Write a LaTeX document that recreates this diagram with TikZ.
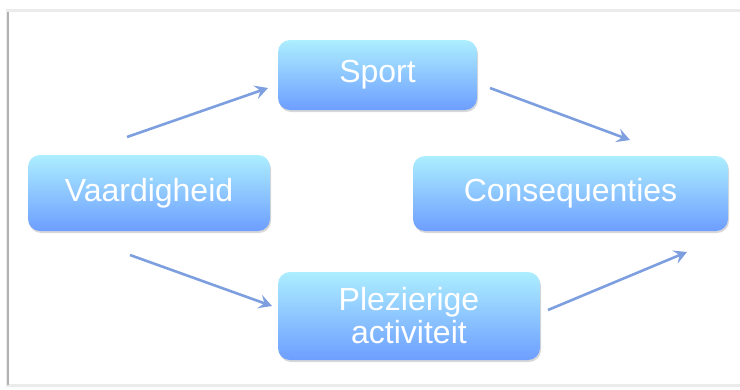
\documentclass[tikz,border=0pt]{standalone}
\usepackage{fontspec}
\setmainfont{Liberation Sans}
\usetikzlibrary{arrows.meta,shadows}
\definecolor{boxtop}{HTML}{ADEEFF}
\definecolor{boxmid}{HTML}{94C4FF}
\definecolor{boxbot}{HTML}{6D9EFF}
\definecolor{arr}{HTML}{7E9FDF}
\tikzset{
  box/.style={rounded corners=12pt, top color=boxtop, middle color=boxmid, bottom color=boxbot, draw=none,
    text=white, font=\fontsize{32}{33}\selectfont, align=center, inner sep=0pt,
    drop shadow={shadow xshift=1pt, shadow yshift=-2pt, opacity=0.25, fill=black!60}},
  conn/.style={arr, line width=2.6pt, -{Stealth[length=13pt,width=14pt,inset=5pt]}}
}
\begin{document}
\begin{tikzpicture}[x=1pt,y=-1pt]
\useasboundingbox (0,0) rectangle (740,389);
\fill[white] (0,0) rectangle (740,389);
% frame
\fill[black!8] (6,9) rectangle (740,387);
\fill[white] (9,12) rectangle (740,384);
\draw[black!30, line width=1.5pt] (8,12) -- (8,385);
% boxes
\node[box, minimum width=199pt, minimum height=70pt] (sport) at (377.5,75) {Sport};
\node[box, minimum width=242pt, minimum height=76pt] (vaard) at (149,193) {Vaardigheid};
\node[box, minimum width=315pt, minimum height=75pt] (cons) at (570.5,193.5) {Consequenties};
\node[box, minimum width=262pt, minimum height=88pt] (plez) at (409,316) {Plezierige\\activiteit};
% arrow end points
\coordinate (a1s) at (127,137); \coordinate (a1e) at (268,88);
\coordinate (a2s) at (490,88);  \coordinate (a2e) at (630,140);
\coordinate (a3s) at (130,255); \coordinate (a3e) at (272,306);
\coordinate (a4s) at (548,310); \coordinate (a4e) at (687,252);
\draw[conn] (a1s) -- (a1e);
\draw[conn] (a2s) -- (a2e);
\draw[conn] (a3s) -- (a3e);
\draw[conn] (a4s) -- (a4e);
\end{tikzpicture}
\end{document}
